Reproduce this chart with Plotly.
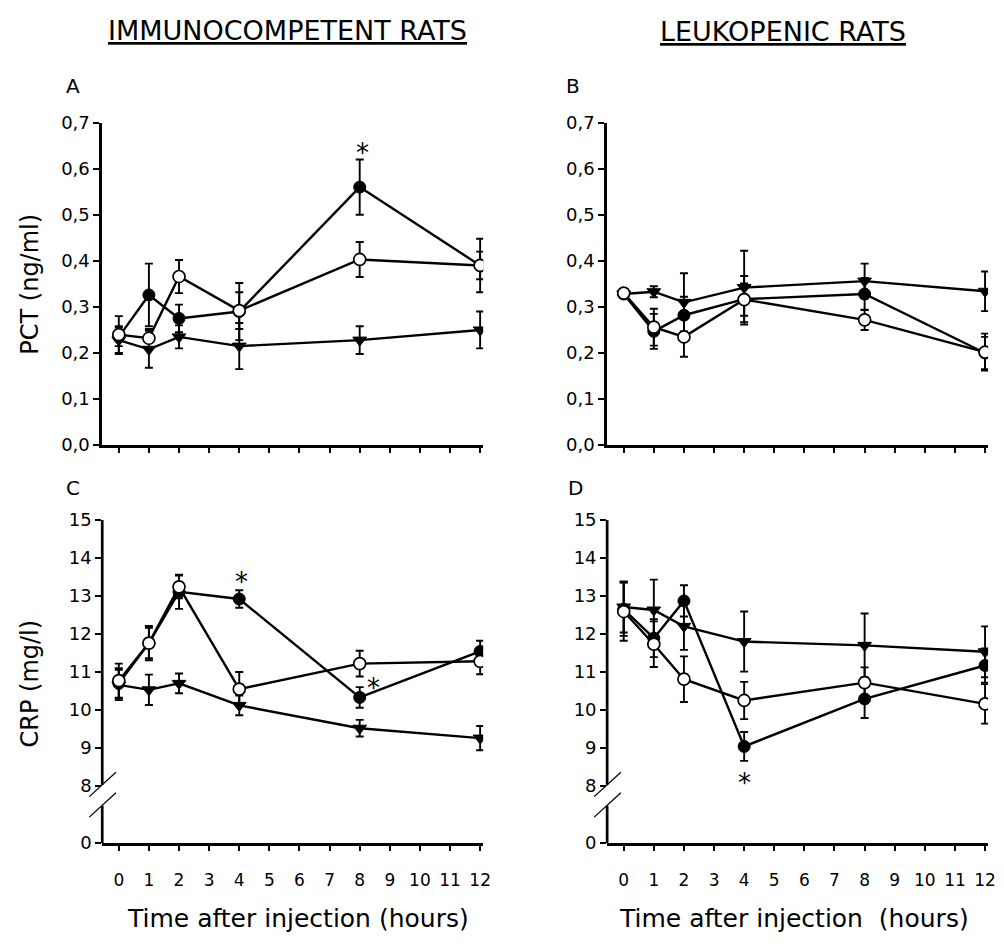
import plotly.graph_objects as go

FONT = "DejaVu Sans, Liberation Sans, Arial, sans-serif"

hours = [0, 1, 2, 4, 8, 12]

# Panel A: PCT, immunocompetent rats
a_filled = [0.235, 0.326, 0.275, 0.29, 0.56, 0.39]
a_filled_err = [0.02, 0.068, 0.03, 0.062, 0.06, 0.058]
a_open = [0.24, 0.232, 0.366, 0.292, 0.403, 0.39]
a_open_err = [0.04, 0.02, 0.036, 0.04, 0.038, 0.03]
a_tri = [0.228, 0.208, 0.235, 0.215, 0.228, 0.25]
a_tri_err = [0.03, 0.04, 0.025, 0.05, 0.03, 0.04]

# Panel B: PCT, leukopenic rats
b_filled = [0.328, 0.247, 0.282, 0.317, 0.328, 0.2]
b_filled_err = [0.005, 0.038, 0.04, 0.05, 0.035, 0.035]
b_open = [0.33, 0.256, 0.235, 0.316, 0.272, 0.202]
b_open_err = [0.005, 0.04, 0.043, 0.035, 0.022, 0.04]
b_tri = [0.328, 0.333, 0.31, 0.342, 0.356, 0.334]
b_tri_err = [0.005, 0.012, 0.063, 0.08, 0.038, 0.043]

# Panel C: CRP, immunocompetent rats
c_filled = [10.7, 11.76, 13.11, 12.92, 10.33, 11.54]
c_filled_err = [0.4, 0.4, 0.45, 0.23, 0.27, 0.28]
c_open = [10.77, 11.76, 13.24, 10.55, 11.22, 11.28]
c_open_err = [0.45, 0.45, 0.3, 0.45, 0.34, 0.34]
c_tri = [10.66, 10.53, 10.70, 10.12, 9.52, 9.26]
c_tri_err = [0.4, 0.4, 0.26, 0.26, 0.22, 0.32]

# Panel D: CRP, leukopenic rats
d_filled = [12.65, 11.89, 12.87, 9.04, 10.29, 11.17]
d_filled_err = [0.7, 0.5, 0.41, 0.38, 0.5, 0.45]
d_open = [12.59, 11.73, 10.81, 10.25, 10.72, 10.16]
d_open_err = [0.77, 0.6, 0.6, 0.49, 0.4, 0.52]
d_tri = [12.71, 12.63, 12.2, 11.8, 11.7, 11.53]
d_tri_err = [0.67, 0.8, 0.62, 0.79, 0.84, 0.67]

pct_ticks = [0.0, 0.1, 0.2, 0.3, 0.4, 0.5, 0.6, 0.7]
pct_labels = ["0,0", "0,1", "0,2", "0,3", "0,4", "0,5", "0,6", "0,7"]
crp_ticks = [6.5, 8, 9, 10, 11, 12, 13, 14, 15]
crp_labels = ["0", "8", "9", "10", "11", "12", "13", "14", "15"]
hour_ticks = list(range(0, 13))

# asterisks (x, y) per panel
a_stars = [(8.08, 0.645)]
c_stars = [(4.08, 13.5), (8.45, 10.72)]
d_stars = [(4.02, 8.22)]

fig = go.Figure()

def add_panel(xa, ya, tri, tri_err, filled, filled_err, opn, opn_err):
    common = dict(x=hours, xaxis=xa, yaxis=ya, mode="lines+markers",
                  line=dict(color="black", width=2.4), showlegend=False,
                  hoverinfo="skip")
    fig.add_trace(go.Scatter(
        y=tri, error_y=dict(type="data", array=tri_err, color="black",
                            thickness=1.9, width=4),
        marker=dict(symbol="triangle-down", size=12, color="black",
                    line=dict(color="black", width=1)), **common))
    fig.add_trace(go.Scatter(
        y=filled, error_y=dict(type="data", array=filled_err, color="black",
                               thickness=1.9, width=4),
        marker=dict(symbol="circle", size=12, color="black",
                    line=dict(color="black", width=1)), **common))
    fig.add_trace(go.Scatter(
        y=opn, error_y=dict(type="data", array=opn_err, color="black",
                            thickness=1.9, width=4),
        marker=dict(symbol="circle", size=12, color="white",
                    line=dict(color="black", width=1.7)), **common))

add_panel("x", "y", a_tri, a_tri_err, a_filled, a_filled_err, a_open, a_open_err)
add_panel("x2", "y2", b_tri, b_tri_err, b_filled, b_filled_err, b_open, b_open_err)
add_panel("x3", "y3", c_tri, c_tri_err, c_filled, c_filled_err, c_open, c_open_err)
add_panel("x4", "y4", d_tri, d_tri_err, d_filled, d_filled_err, d_open, d_open_err)

# the page body has an 8px default margin: figure is sized/offset to fit it
OFF = 8
W, H = 1004 - OFF, 947 - 2 * OFF

def px(X):
    return (X - OFF) / W

def py(Y):
    return 1 - (Y - OFF) / H

left_dom = [px(103), px(487)]
right_dom = [px(612), px(996)]
top_dom = [py(444), py(114)]
bot_dom = [py(851), py(520.5)]

def xaxis(domain, anchor, labels):
    return dict(domain=domain, anchor=anchor, range=[-0.55, 12.1],
                tickvals=hour_ticks, showticklabels=labels,
                showline=True, linecolor="black", linewidth=2.7,
                ticks="outside", ticklen=5, tickwidth=2, tickcolor="black",
                ticklabelstandoff=15,
                showgrid=False, zeroline=False,
                tickfont=dict(family=FONT, size=17, color="black"))

def yaxis(domain, anchor, rng, tv, tt, line=True):
    return dict(domain=domain, anchor=anchor, range=rng,
                tickvals=tv, ticktext=tt,
                showline=line, linecolor="black", linewidth=2.7,
                ticks="outside", ticklen=6, tickwidth=2, tickcolor="black",
                showgrid=False, zeroline=False,
                tickfont=dict(family=FONT, size=18, color="black"))

shapes = []
for xd, yr in (("x3 domain", "y3"), ("x4 domain", "y4")):
    shapes.append(dict(type="line", xref=xd, yref=yr, x0=0, x1=0, y0=8.03, y1=15,
                       line=dict(color="black", width=2.7)))
    shapes.append(dict(type="line", xref=xd, yref=yr, x0=0, x1=0, y0=6.5, y1=7.48,
                       line=dict(color="black", width=2.7)))
    shapes.append(dict(type="line", xref=xd, yref=yr, x0=-0.034, x1=0.036,
                       y0=7.72, y1=8.36, line=dict(color="black", width=1.3)))
    shapes.append(dict(type="line", xref=xd, yref=yr, x0=-0.034, x1=0.036,
                       y0=7.18, y1=7.82, line=dict(color="black", width=1.3)))

annotations = []

def text(X, Y, s, size, angle=0):
    annotations.append(dict(x=px(X), y=py(Y), xref="paper", yref="paper", text=s,
                            showarrow=False, textangle=angle, xanchor="center",
                            yanchor="middle",
                            font=dict(family=FONT, size=size, color="black")))

text(290, 20, "<u>IMMUNOCOMPETENT RATS</u>", 27)
text(789, 21, "<u>LEUKOPENIC RATS</u>", 27)
text(74, 77, "A", 20)
text(578, 77, "B", 20)
text(74, 488, "C", 20)
text(580, 488, "D", 20)
text(30, 279, "PCT (ng/ml)", 24, angle=-90)
text(30, 688, "CRP (mg/l)", 24, angle=-90)
text(300, 928, "Time after injection (hours)", 25)
text(800, 928, "Time after injection\u00a0 (hours)", 25)

for (xr, yr, stars) in (("x", "y", a_stars), ("x3", "y3", c_stars), ("x4", "y4", d_stars)):
    for sx, sy in stars:
        annotations.append(dict(x=sx, y=sy, xref=xr, yref=yr, text="*",
                                showarrow=False, yshift=-5,
                                font=dict(family=FONT, size=26, color="black")))

fig.update_layout(
    width=W, height=H, autosize=False,
    margin=dict(l=0, r=0, t=0, b=0),
    paper_bgcolor="white", plot_bgcolor="white",
    showlegend=False,
    xaxis=xaxis(left_dom, "y", False),
    yaxis=yaxis(top_dom, "x", [0, 0.7], pct_ticks, pct_labels),
    xaxis2=xaxis(right_dom, "y2", False),
    yaxis2=yaxis(top_dom, "x2", [0, 0.7], pct_ticks, pct_labels),
    xaxis3=xaxis(left_dom, "y3", True),
    yaxis3=yaxis(bot_dom, "x3", [6.5, 15], crp_ticks, crp_labels, line=False),
    xaxis4=xaxis(right_dom, "y4", True),
    yaxis4=yaxis(bot_dom, "x4", [6.5, 15], crp_ticks, crp_labels, line=False),
    shapes=shapes,
    annotations=annotations,
)

fig.write_html("out.html")
